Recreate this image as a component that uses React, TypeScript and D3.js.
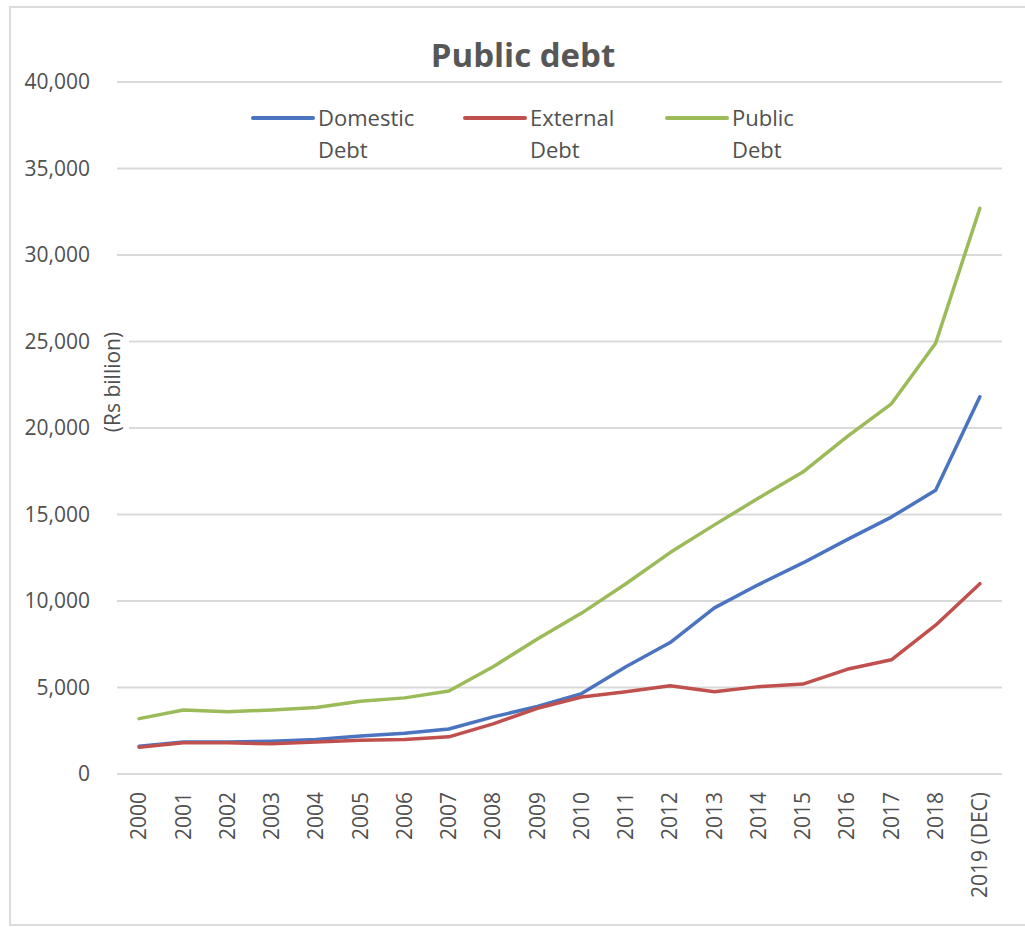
import React from "react";
import * as d3 from "d3";

// Public debt series, Rs billion
const years = [
  "2000", "2001", "2002", "2003", "2004", "2005", "2006", "2007", "2008", "2009",
  "2010", "2011", "2012", "2013", "2014", "2015", "2016", "2017", "2018", "2019 (DEC)",
];
const domesticDebt = [
  1600, 1850, 1850, 1900, 2000, 2200, 2350, 2600, 3300, 3900,
  4650, 6200, 7600, 9600, 10950, 12200, 13550, 14850, 16400, 21800,
];
const externalDebt = [
  1550, 1800, 1800, 1750, 1850, 1950, 2000, 2150, 2900, 3800,
  4450, 4750, 5100, 4750, 5050, 5200, 6050, 6600, 8600, 11000,
];
const publicDebt = [
  3200, 3700, 3600, 3700, 3850, 4200, 4400, 4800, 6200, 7800,
  9300, 11000, 12800, 14400, 15950, 17450, 19500, 21400, 24900, 32700,
];
const yTicks = [0, 5000, 10000, 15000, 20000, 25000, 30000, 35000, 40000];

const seriesList = [
  { name: ["Domestic", "Debt"], values: domesticDebt, color: "#4a74c0" },
  { name: ["External", "Debt"], values: externalDebt, color: "#c0504d" },
  { name: ["Public", "Debt"], values: publicDebt, color: "#9bbb59" },
];

const W = 1025;
const H = 927;
const plot = { left: 117, right: 1002, top: 82, bottom: 774 };
const FONT = "'Open Sans', 'DejaVu Sans', sans-serif";
const TEXT = "#505050";

export default function App() {
  const x = d3.scaleBand<string>().domain(years).range([plot.left, plot.right]);
  const y = d3.scaleLinear().domain([0, 40000]).range([plot.bottom, plot.top]);
  const cx = (i: number) => (x(years[i]) as number) + x.bandwidth() / 2;
  const line = d3
    .line<number>()
    .x((_, i) => cx(i))
    .y((v) => y(v));
  const fmt = d3.format(",");

  const legendX = [253, 465, 667];

  return (
    <svg
      width={W}
      height={H}
      style={{ position: "absolute", left: 0, top: 0, background: "#fff" }}
      fontFamily={FONT}
    >
      <rect x={10} y={7} width={1030} height={918} fill="#fff" stroke="#dcdcdc" strokeWidth={2} />

      <text x={523} y={67} textAnchor="middle" fontSize={33} fontWeight={700} fill="#575757">
        Public debt
      </text>

      {yTicks.map((t) => (
        <g key={t}>
          <line x1={plot.left} x2={plot.right} y1={y(t)} y2={y(t)} stroke="#d9d9d9" strokeWidth={2} />
          <text x={90} y={y(t)} dy="0.35em" textAnchor="end" fontSize={21} fontWeight={500} fill={TEXT}>
            {fmt(t)}
          </text>
        </g>
      ))}

      {/* axis title sits on a white patch over the gridlines */}
      <rect x={99} y={318} width={30} height={128} fill="#fff" />
      <text
        transform={`translate(113,382) rotate(-90)`}
        textAnchor="middle"
        dy="0.35em"
        fontSize={21}
        fontWeight={500}
        fill={TEXT}
      >
        (Rs billion)
      </text>

      {years.map((yr, i) => (
        <text
          key={yr}
          transform={`translate(${cx(i)},792) rotate(-90)`}
          textAnchor="end"
          dy="0.35em"
          fontSize={21}
          fontWeight={500}
          fill={TEXT}
        >
          {yr}
        </text>
      ))}

      {seriesList.map((s) => (
        <path
          key={s.name.join(" ")}
          d={line(s.values) ?? ""}
          fill="none"
          stroke={s.color}
          strokeWidth={3.5}
          strokeLinejoin="round"
          strokeLinecap="round"
        />
      ))}

      {seriesList.map((s, k) => (
        <g key={"lg" + k} transform={`translate(${legendX[k]},118)`}>
          <line x1={0} x2={60} y1={0} y2={0} stroke={s.color} strokeWidth={4} strokeLinecap="round" />
          <text x={65} y={0} dy="0.35em" fontSize={22} fontWeight={500} fill={TEXT}>
            {s.name[0]}
          </text>
          <text x={65} y={32} dy="0.35em" fontSize={22} fontWeight={500} fill={TEXT}>
            {s.name[1]}
          </text>
        </g>
      ))}
    </svg>
  );
}
